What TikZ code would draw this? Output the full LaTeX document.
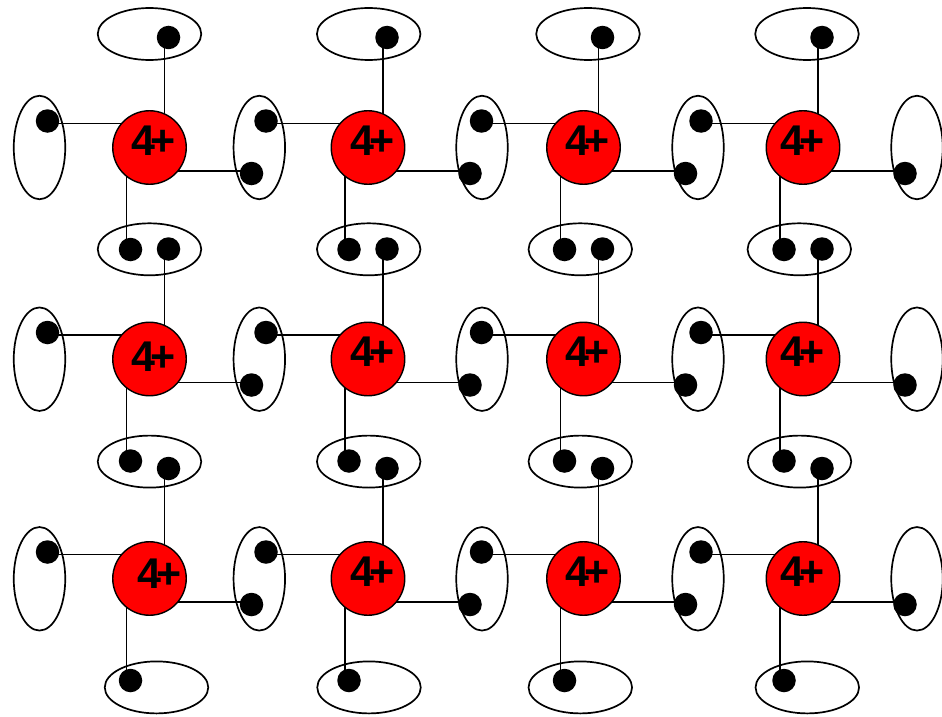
\documentclass[tikz,border=0pt]{standalone}
\usepackage{fontspec}
\setmainfont{Liberation Sans}
\usetikzlibrary{shapes.geometric,backgrounds}
\tikzstyle{ion}=[circle,draw,fill=red,line width=1.4pt,minimum size=73.5pt,inner sep=0pt]
\tikzstyle{charge}=[inner sep=0pt,font=\bfseries\fontsize{43}{43}\selectfont]
\tikzstyle{pairh}=[ellipse,draw,line width=1.7pt,minimum width=103.5pt,minimum height=52pt,inner sep=0pt]
\tikzstyle{pairv}=[ellipse,draw,line width=1.7pt,minimum width=51.5pt,minimum height=103.5pt,inner sep=0pt]
\tikzstyle{el}=[circle,fill=black,minimum size=23.5pt,inner sep=0pt]
\tikzstyle{bond}=[draw,line width=1.9pt]
\newcommand{\fourplus}{4\kern-5pt+}

\begin{document}
\begin{tikzpicture}[x=1pt,y=-1pt]
    \useasboundingbox (0,0) rectangle (942,717);
    % electron pairs between the rows
    \foreach \y/\xs [count=\r] in {34/{149.5,368.7,588,807},249.3/{149.5,368.7,580.3,799.3},
        461.6/{149.5,368.7,580.3,799.5},687.4/{156.5,369,580.3,807.3}}
      \foreach \x [count=\c] in \xs
        \node[pairh] (h\r\c) at (\x,\y) {};
    % electron pairs between the columns
    \foreach \y [count=\r] in {147.5,359.2,578.8}
      \foreach \x [count=\c] in {39.5,259.3,482,698,917}
        \node[pairv] (v\r\c) at (\x,\y) {};
    % ion cores
    \node[ion] (i11) at (149.5,147.5) {};
    \node[ion] (i12) at (368,147.5) {};
    \node[ion] (i13) at (583.5,147.5) {};
    \node[ion] (i14) at (803,147.5) {};
    \node[ion] (i21) at (149.5,359) {};
    \node[ion] (i22) at (368,359) {};
    \node[ion] (i23) at (583.5,359) {};
    \node[ion] (i24) at (803,359) {};
    \node[ion] (i31) at (149.5,578.5) {};
    \node[ion] (i32) at (368,578.5) {};
    \node[ion] (i33) at (583.5,578.5) {};
    \node[ion] (i34) at (803,578.5) {};
    % valence electrons and bonds
    \foreach \n in {11,12,13,14,21,22,23,24,31,32,33,34} {
      \node[el] (u\n) at ([shift={(19,-110)}]i\n.center) {};
      \node[el] (d\n) at ([shift={(-19,102)}]i\n.center) {};
      \node[el] (l\n) at ([shift={(-102,-26.5)}]i\n.center) {};
      \node[el] (r\n) at ([shift={(102,26)}]i\n.center) {};
      \begin{scope}[on background layer]
        \draw[bond] ([shift={(-4,0)}]u\n.center) -- ([shift={(15,0)}]i\n.center);
        \draw[bond] ([shift={(-4,0)}]d\n.center) -- ([shift={(-23,0)}]i\n.center);
        \draw[bond] ([shift={(0,2.5)}]l\n.center) -- ([shift={(0,-24)}]i\n.center);
        \draw[bond] ([shift={(0,-2.5)}]r\n.center) -- ([shift={(0,23.5)}]i\n.center);
      \end{scope}
    }
    % charges
    \node[charge] (q11) at ([shift={(4,-6.5)}]i11.center) {\fourplus};
    \node[charge] (q12) at ([shift={(4.5,-6.5)}]i12.center) {\fourplus};
    \node[charge] (q13) at ([shift={(4.3,-6.5)}]i13.center) {\fourplus};
    \node[charge] (q14) at ([shift={(-0.2,-6.5)}]i14.center) {\fourplus};
    \node[charge] (q21) at ([shift={(4.2,-2)}]i21.center) {\fourplus};
    \node[charge] (q22) at ([shift={(4.5,-6.8)}]i22.center) {\fourplus};
    \node[charge] (q23) at ([shift={(4.3,-6.8)}]i23.center) {\fourplus};
    \node[charge] (q24) at ([shift={(-0.2,-7.7)}]i24.center) {\fourplus};
    \node[charge] (q31) at ([shift={(10.5,-4.5)}]i31.center) {\fourplus};
    \node[charge] (q32) at ([shift={(4.5,-6.3)}]i32.center) {\fourplus};
    \node[charge] (q33) at ([shift={(4.3,-6.3)}]i33.center) {\fourplus};
    \node[charge] (q34) at ([shift={(-0.2,-7.2)}]i34.center) {\fourplus};
\end{tikzpicture}
\end{document}
